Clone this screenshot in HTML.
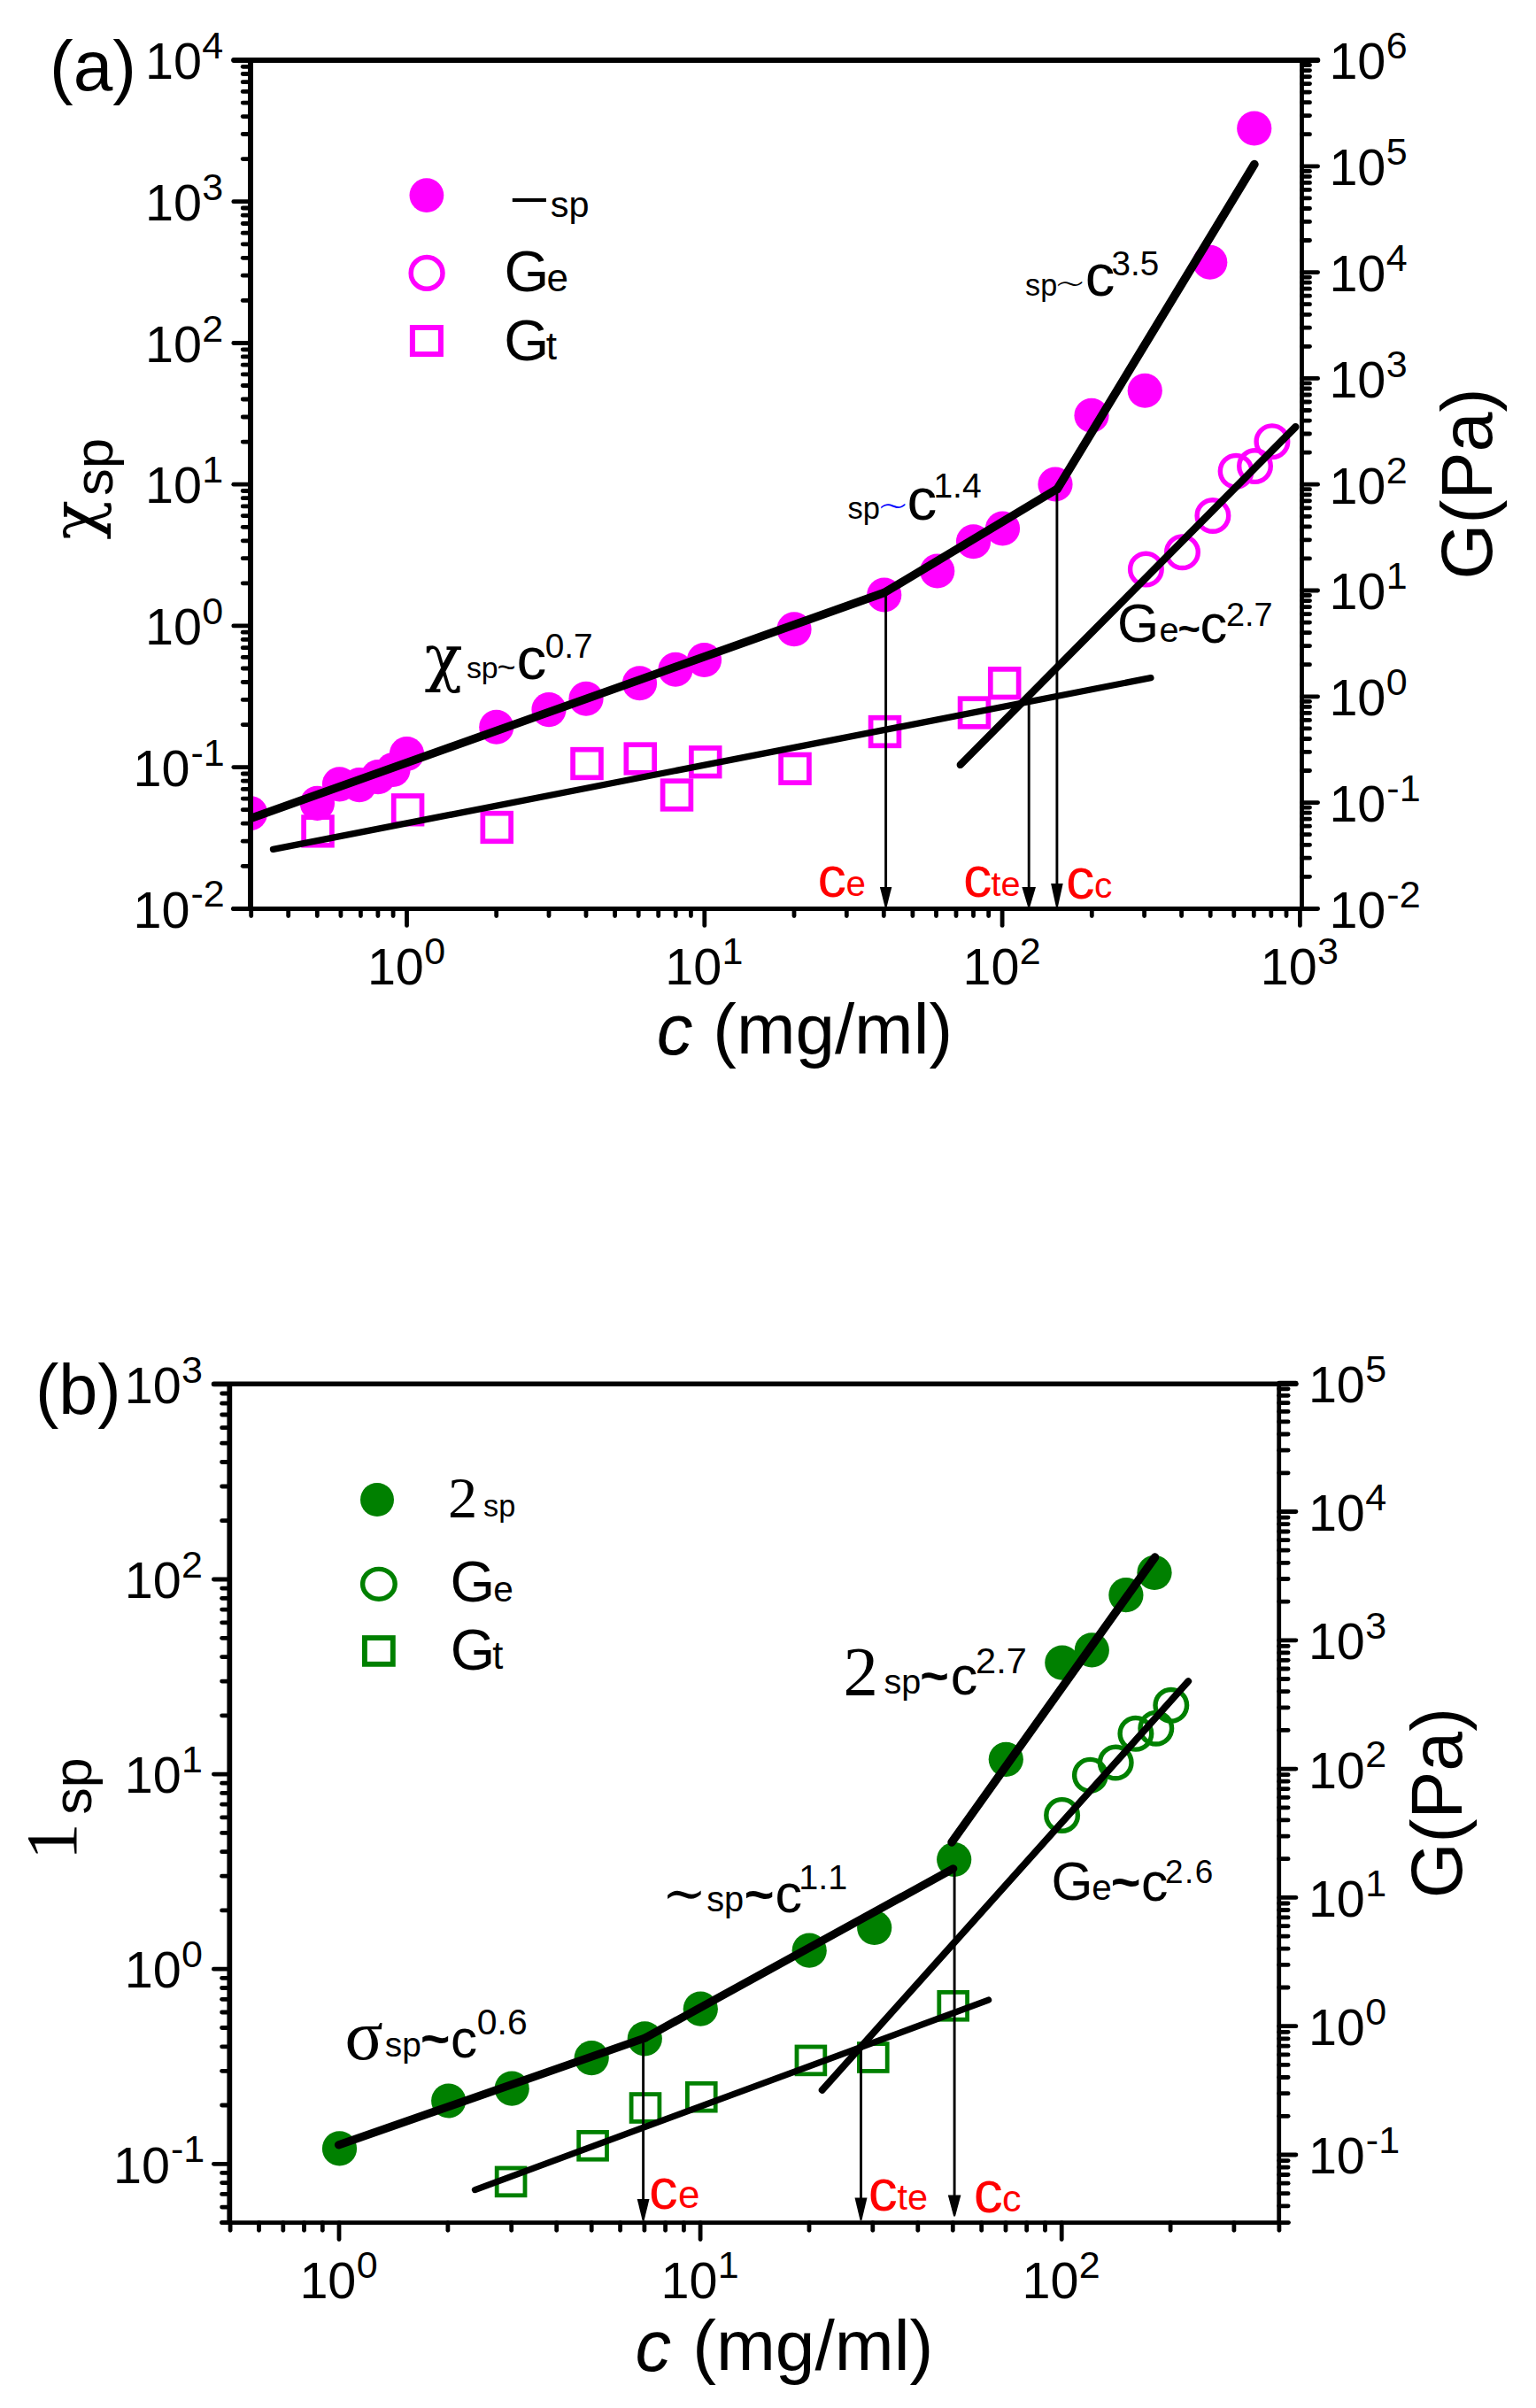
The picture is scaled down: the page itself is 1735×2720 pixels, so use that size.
<!DOCTYPE html>
<html><head><meta charset="utf-8"><title>figure</title>
<style>html,body{margin:0;padding:0;background:#fff}svg{display:block}</style></head>
<body>
<svg width="1735" height="2720" viewBox="0 0 1735 2720" font-family="Liberation Sans,sans-serif">
<rect width="1735" height="2720" fill="#fff"/>
<clipPath id="ca"><rect x="283" y="68" width="1187.5" height="958.4000000000001"/></clipPath>
<g clip-path="url(#ca)">
<g fill="#f0f">
<circle cx="282.6" cy="918.6" r="19.6"/>
<circle cx="358.4" cy="907.4" r="19.6"/>
<circle cx="383.5" cy="885.8" r="19.6"/>
<circle cx="405.9" cy="886.6" r="19.6"/>
<circle cx="427" cy="877.7" r="19.6"/>
<circle cx="444" cy="869.5" r="19.6"/>
<circle cx="459.5" cy="851.5" r="19.6"/>
<circle cx="560.75" cy="821.25" r="19.6"/>
<circle cx="620" cy="801.6" r="19.6"/>
<circle cx="662" cy="789.25" r="19.6"/>
<circle cx="722.5" cy="771.75" r="19.6"/>
<circle cx="763" cy="756.25" r="19.6"/>
<circle cx="795.5" cy="745.5" r="19.6"/>
<circle cx="897" cy="710.75" r="19.6"/>
<circle cx="998.75" cy="672" r="19.6"/>
<circle cx="1058.75" cy="645" r="19.6"/>
<circle cx="1099.5" cy="611.75" r="19.6"/>
<circle cx="1132.5" cy="597" r="19.6"/>
<circle cx="1192" cy="547" r="19.6"/>
<circle cx="1233" cy="469.25" r="19.6"/>
<circle cx="1293.25" cy="441.25" r="19.6"/>
<circle cx="1366.75" cy="296.25" r="19.6"/>
<circle cx="1416.75" cy="145" r="19.6"/>
</g>
<g fill="none" stroke="#f0f" stroke-width="5.4">
<circle cx="1294.4" cy="643" r="17.8"/>
<circle cx="1335.5" cy="623.7" r="17.8"/>
<circle cx="1369.9" cy="582.5" r="17.8"/>
<circle cx="1396.1" cy="532.3" r="17.8"/>
<circle cx="1417.5" cy="526.6" r="17.8"/>
<circle cx="1436.9" cy="498.7" r="17.8"/>
</g>
<g fill="none" stroke="#f0f" stroke-width="5.7">
<rect x="343.10" y="923.10" width="31.8" height="31.6"/>
<rect x="444.70" y="899.00" width="31.8" height="31.6"/>
<rect x="545.35" y="918.70" width="31.8" height="31.6"/>
<rect x="647.10" y="846.70" width="31.8" height="31.6"/>
<rect x="707.35" y="841.20" width="31.8" height="31.6"/>
<rect x="748.60" y="882.20" width="31.8" height="31.6"/>
<rect x="780.85" y="844.95" width="31.8" height="31.6"/>
<rect x="882.10" y="852.50" width="31.8" height="31.6"/>
<rect x="983.60" y="810.70" width="31.8" height="31.6"/>
<rect x="1084.60" y="789.20" width="31.8" height="31.6"/>
<rect x="1118.80" y="755.90" width="31.8" height="31.6"/>
</g>
<line x1="282.75" y1="924.50" x2="998.75" y2="669.50" stroke="#000" stroke-width="9.4" stroke-linecap="round"/>
<line x1="998.75" y1="669.50" x2="1193.75" y2="552.50" stroke="#000" stroke-width="9.4" stroke-linecap="round"/>
<line x1="1194.20" y1="552.50" x2="1416.90" y2="185.60" stroke="#000" stroke-width="9.6" stroke-linecap="round"/>
<line x1="308.50" y1="959.40" x2="1299.90" y2="765.70" stroke="#000" stroke-width="7.3" stroke-linecap="round"/>
<line x1="1084.80" y1="863.90" x2="1463.40" y2="482.20" stroke="#000" stroke-width="8.4" stroke-linecap="round"/>
<line x1="1000.60" y1="669.50" x2="1000.60" y2="1004.00" stroke="#000" stroke-width="2.9"/>
<polygon points="993.9,1002.0 1007.3,1002.0 1001.5,1025.0 999.7,1025.0"/>
<line x1="1162.20" y1="792.90" x2="1162.20" y2="1004.00" stroke="#000" stroke-width="2.9"/>
<polygon points="1154.4,1002.0 1170.0,1002.0 1163.1,1025.0 1161.3,1025.0"/>
<line x1="1193.90" y1="552.50" x2="1193.90" y2="1000.00" stroke="#000" stroke-width="2.9"/>
<polygon points="1187.1,998.0 1200.7,998.0 1194.8,1025.0 1193.0,1025.0"/>
</g>
<line x1="264.20" y1="68.00" x2="1488.30" y2="68.00" stroke="#000" stroke-width="6" stroke-linecap="round"/>
<line x1="263.50" y1="1026.40" x2="1487.50" y2="1026.40" stroke="#000" stroke-width="5" stroke-linecap="round"/>
<line x1="283.00" y1="68.00" x2="283.00" y2="1026.40" stroke="#000" stroke-width="6"/>
<line x1="1470.50" y1="68.00" x2="1470.50" y2="1026.40" stroke="#000" stroke-width="4.8"/>
<g stroke="#000" stroke-width="4.8" stroke-linecap="round">
<path d="M283.7 1026.4L283.7 1034.6"/>
<path d="M325.7 1026.4L325.7 1034.6"/>
<path d="M358.3 1026.4L358.3 1034.6"/>
<path d="M384.9 1026.4L384.9 1034.6"/>
<path d="M407.4 1026.4L407.4 1034.6"/>
<path d="M426.9 1026.4L426.9 1034.6"/>
<path d="M444.1 1026.4L444.1 1034.6"/>
<path d="M459.5 1026.4L459.5 1045.4"/>
<path d="M560.7 1026.4L560.7 1034.6"/>
<path d="M620.0 1026.4L620.0 1034.6"/>
<path d="M662.0 1026.4L662.0 1034.6"/>
<path d="M694.6 1026.4L694.6 1034.6"/>
<path d="M721.2 1026.4L721.2 1034.6"/>
<path d="M743.7 1026.4L743.7 1034.6"/>
<path d="M763.2 1026.4L763.2 1034.6"/>
<path d="M780.4 1026.4L780.4 1034.6"/>
<path d="M795.8 1026.4L795.8 1045.4"/>
<path d="M897.0 1026.4L897.0 1034.6"/>
<path d="M956.3 1026.4L956.3 1034.6"/>
<path d="M998.3 1026.4L998.3 1034.6"/>
<path d="M1030.9 1026.4L1030.9 1034.6"/>
<path d="M1057.5 1026.4L1057.5 1034.6"/>
<path d="M1080.0 1026.4L1080.0 1034.6"/>
<path d="M1099.5 1026.4L1099.5 1034.6"/>
<path d="M1116.7 1026.4L1116.7 1034.6"/>
<path d="M1132.1 1026.4L1132.1 1045.4"/>
<path d="M1233.3 1026.4L1233.3 1034.6"/>
<path d="M1292.6 1026.4L1292.6 1034.6"/>
<path d="M1334.6 1026.4L1334.6 1034.6"/>
<path d="M1367.2 1026.4L1367.2 1034.6"/>
<path d="M1393.8 1026.4L1393.8 1034.6"/>
<path d="M1416.3 1026.4L1416.3 1034.6"/>
<path d="M1435.8 1026.4L1435.8 1034.6"/>
<path d="M1453.0 1026.4L1453.0 1034.6"/>
<path d="M1468.4 1026.4L1468.4 1045.4"/>
<path d="M283.0 1026.4L263.8 1026.4"/>
<path d="M283.0 978.3L274.2 978.3"/>
<path d="M283.0 950.2L274.2 950.2"/>
<path d="M283.0 930.2L274.2 930.2"/>
<path d="M283.0 914.7L274.2 914.7"/>
<path d="M283.0 902.1L274.2 902.1"/>
<path d="M283.0 891.4L274.2 891.4"/>
<path d="M283.0 882.1L274.2 882.1"/>
<path d="M283.0 874.0L274.2 874.0"/>
<path d="M283.0 866.6L263.8 866.6"/>
<path d="M283.0 818.6L274.2 818.6"/>
<path d="M283.0 790.4L274.2 790.4"/>
<path d="M283.0 770.5L274.2 770.5"/>
<path d="M283.0 755.0L274.2 755.0"/>
<path d="M283.0 742.4L274.2 742.4"/>
<path d="M283.0 731.7L274.2 731.7"/>
<path d="M283.0 722.4L274.2 722.4"/>
<path d="M283.0 714.2L274.2 714.2"/>
<path d="M283.0 706.9L263.8 706.9"/>
<path d="M283.0 658.8L274.2 658.8"/>
<path d="M283.0 630.7L274.2 630.7"/>
<path d="M283.0 610.8L274.2 610.8"/>
<path d="M283.0 595.3L274.2 595.3"/>
<path d="M283.0 582.6L274.2 582.6"/>
<path d="M283.0 571.9L274.2 571.9"/>
<path d="M283.0 562.7L274.2 562.7"/>
<path d="M283.0 554.5L274.2 554.5"/>
<path d="M283.0 547.2L263.8 547.2"/>
<path d="M283.0 499.1L274.2 499.1"/>
<path d="M283.0 471.0L274.2 471.0"/>
<path d="M283.0 451.0L274.2 451.0"/>
<path d="M283.0 435.5L274.2 435.5"/>
<path d="M283.0 422.9L274.2 422.9"/>
<path d="M283.0 412.2L274.2 412.2"/>
<path d="M283.0 402.9L274.2 402.9"/>
<path d="M283.0 394.8L274.2 394.8"/>
<path d="M283.0 387.5L263.8 387.5"/>
<path d="M283.0 339.4L274.2 339.4"/>
<path d="M283.0 311.2L274.2 311.2"/>
<path d="M283.0 291.3L274.2 291.3"/>
<path d="M283.0 275.8L274.2 275.8"/>
<path d="M283.0 263.2L274.2 263.2"/>
<path d="M283.0 252.5L274.2 252.5"/>
<path d="M283.0 243.2L274.2 243.2"/>
<path d="M283.0 235.0L274.2 235.0"/>
<path d="M283.0 227.7L263.8 227.7"/>
<path d="M283.0 179.6L274.2 179.6"/>
<path d="M283.0 151.5L274.2 151.5"/>
<path d="M283.0 131.6L274.2 131.6"/>
<path d="M283.0 116.1L274.2 116.1"/>
<path d="M283.0 103.4L274.2 103.4"/>
<path d="M283.0 92.7L274.2 92.7"/>
<path d="M283.0 83.5L274.2 83.5"/>
<path d="M283.0 75.3L274.2 75.3"/>
<path d="M283.0 68.0L263.8 68.0"/>
<path d="M1470.5 1026.4L1488.6 1026.4"/>
<path d="M1470.5 990.3L1479.5 990.3"/>
<path d="M1470.5 969.2L1479.5 969.2"/>
<path d="M1470.5 954.3L1479.5 954.3"/>
<path d="M1470.5 942.7L1479.5 942.7"/>
<path d="M1470.5 933.2L1479.5 933.2"/>
<path d="M1470.5 925.2L1479.5 925.2"/>
<path d="M1470.5 918.2L1479.5 918.2"/>
<path d="M1470.5 912.1L1479.5 912.1"/>
<path d="M1470.5 906.6L1488.6 906.6"/>
<path d="M1470.5 870.5L1479.5 870.5"/>
<path d="M1470.5 849.4L1479.5 849.4"/>
<path d="M1470.5 834.5L1479.5 834.5"/>
<path d="M1470.5 822.9L1479.5 822.9"/>
<path d="M1470.5 813.4L1479.5 813.4"/>
<path d="M1470.5 805.4L1479.5 805.4"/>
<path d="M1470.5 798.4L1479.5 798.4"/>
<path d="M1470.5 792.3L1479.5 792.3"/>
<path d="M1470.5 786.8L1488.6 786.8"/>
<path d="M1470.5 750.7L1479.5 750.7"/>
<path d="M1470.5 729.6L1479.5 729.6"/>
<path d="M1470.5 714.7L1479.5 714.7"/>
<path d="M1470.5 703.1L1479.5 703.1"/>
<path d="M1470.5 693.6L1479.5 693.6"/>
<path d="M1470.5 685.6L1479.5 685.6"/>
<path d="M1470.5 678.6L1479.5 678.6"/>
<path d="M1470.5 672.5L1479.5 672.5"/>
<path d="M1470.5 667.0L1488.6 667.0"/>
<path d="M1470.5 630.9L1479.5 630.9"/>
<path d="M1470.5 609.8L1479.5 609.8"/>
<path d="M1470.5 594.9L1479.5 594.9"/>
<path d="M1470.5 583.3L1479.5 583.3"/>
<path d="M1470.5 573.8L1479.5 573.8"/>
<path d="M1470.5 565.8L1479.5 565.8"/>
<path d="M1470.5 558.8L1479.5 558.8"/>
<path d="M1470.5 552.7L1479.5 552.7"/>
<path d="M1470.5 547.2L1488.6 547.2"/>
<path d="M1470.5 511.1L1479.5 511.1"/>
<path d="M1470.5 490.0L1479.5 490.0"/>
<path d="M1470.5 475.1L1479.5 475.1"/>
<path d="M1470.5 463.5L1479.5 463.5"/>
<path d="M1470.5 454.0L1479.5 454.0"/>
<path d="M1470.5 446.0L1479.5 446.0"/>
<path d="M1470.5 439.0L1479.5 439.0"/>
<path d="M1470.5 432.9L1479.5 432.9"/>
<path d="M1470.5 427.4L1488.6 427.4"/>
<path d="M1470.5 391.3L1479.5 391.3"/>
<path d="M1470.5 370.2L1479.5 370.2"/>
<path d="M1470.5 355.3L1479.5 355.3"/>
<path d="M1470.5 343.7L1479.5 343.7"/>
<path d="M1470.5 334.2L1479.5 334.2"/>
<path d="M1470.5 326.2L1479.5 326.2"/>
<path d="M1470.5 319.2L1479.5 319.2"/>
<path d="M1470.5 313.1L1479.5 313.1"/>
<path d="M1470.5 307.6L1488.6 307.6"/>
<path d="M1470.5 271.5L1479.5 271.5"/>
<path d="M1470.5 250.4L1479.5 250.4"/>
<path d="M1470.5 235.5L1479.5 235.5"/>
<path d="M1470.5 223.9L1479.5 223.9"/>
<path d="M1470.5 214.4L1479.5 214.4"/>
<path d="M1470.5 206.4L1479.5 206.4"/>
<path d="M1470.5 199.4L1479.5 199.4"/>
<path d="M1470.5 193.3L1479.5 193.3"/>
<path d="M1470.5 187.8L1488.6 187.8"/>
<path d="M1470.5 151.7L1479.5 151.7"/>
<path d="M1470.5 130.6L1479.5 130.6"/>
<path d="M1470.5 115.7L1479.5 115.7"/>
<path d="M1470.5 104.1L1479.5 104.1"/>
<path d="M1470.5 94.6L1479.5 94.6"/>
<path d="M1470.5 86.6L1479.5 86.6"/>
<path d="M1470.5 79.6L1479.5 79.6"/>
<path d="M1470.5 73.5L1479.5 73.5"/>
<path d="M1470.5 68.0L1488.6 68.0"/>
</g>
<g font-family="Liberation Sans,sans-serif">
<text x="459.00" y="1112.20" text-anchor="middle"><tspan font-size="57.5">10</tspan><tspan font-size="43" dy="-23.10" dx="0.30">0</tspan></text>
<text x="795.30" y="1112.20" text-anchor="middle"><tspan font-size="57.5">10</tspan><tspan font-size="43" dy="-23.10" dx="0.30">1</tspan></text>
<text x="1131.60" y="1112.20" text-anchor="middle"><tspan font-size="57.5">10</tspan><tspan font-size="43" dy="-23.10" dx="0.30">2</tspan></text>
<text x="1467.90" y="1112.20" text-anchor="middle"><tspan font-size="57.5">10</tspan><tspan font-size="43" dy="-23.10" dx="0.30">3</tspan></text>
<text x="150.50" y="1047.58"><tspan font-size="57.5">10</tspan><tspan font-size="43" dy="-23.10" dx="1.00">-2</tspan></text>
<text x="150.50" y="887.85"><tspan font-size="57.5">10</tspan><tspan font-size="43" dy="-23.10" dx="1.00">-1</tspan></text>
<text x="164.10" y="728.12"><tspan font-size="57.5">10</tspan><tspan font-size="43" dy="-23.10" dx="0.30">0</tspan></text>
<text x="164.10" y="568.39"><tspan font-size="57.5">10</tspan><tspan font-size="43" dy="-23.10" dx="0.30">1</tspan></text>
<text x="164.10" y="408.66"><tspan font-size="57.5">10</tspan><tspan font-size="43" dy="-23.10" dx="0.30">2</tspan></text>
<text x="164.10" y="248.93"><tspan font-size="57.5">10</tspan><tspan font-size="43" dy="-23.10" dx="0.30">3</tspan></text>
<text x="164.10" y="89.20"><tspan font-size="57.5">10</tspan><tspan font-size="43" dy="-23.10" dx="0.30">4</tspan></text>
<text x="1501.40" y="1047.80"><tspan font-size="57.5">10</tspan><tspan font-size="43" dy="-23.10" dx="1.00">-2</tspan></text>
<text x="1501.40" y="928.00"><tspan font-size="57.5">10</tspan><tspan font-size="43" dy="-23.10" dx="1.00">-1</tspan></text>
<text x="1501.40" y="808.20"><tspan font-size="57.5">10</tspan><tspan font-size="43" dy="-23.10" dx="0.30">0</tspan></text>
<text x="1501.40" y="688.40"><tspan font-size="57.5">10</tspan><tspan font-size="43" dy="-23.10" dx="0.30">1</tspan></text>
<text x="1501.40" y="568.60"><tspan font-size="57.5">10</tspan><tspan font-size="43" dy="-23.10" dx="0.30">2</tspan></text>
<text x="1501.40" y="448.80"><tspan font-size="57.5">10</tspan><tspan font-size="43" dy="-23.10" dx="0.30">3</tspan></text>
<text x="1501.40" y="329.00"><tspan font-size="57.5">10</tspan><tspan font-size="43" dy="-23.10" dx="0.30">4</tspan></text>
<text x="1501.40" y="209.20"><tspan font-size="57.5">10</tspan><tspan font-size="43" dy="-23.10" dx="0.30">5</tspan></text>
<text x="1501.40" y="89.40"><tspan font-size="57.5">10</tspan><tspan font-size="43" dy="-23.10" dx="0.30">6</tspan></text>
</g>
<circle cx="481.9" cy="220.6" r="19.4" fill="#f0f"/>
<circle cx="482.1" cy="308.4" r="17.9" fill="none" stroke="#f0f" stroke-width="5.5"/>
<rect x="465.9" y="370" width="32" height="30.1" fill="none" stroke="#f0f" stroke-width="6"/>
<line x1="578.80" y1="226.00" x2="616.90" y2="226.00" stroke="#000" stroke-width="4"/>
<clipPath id="cb"><rect x="259.3" y="1563.3" width="1185.4" height="947.3"/></clipPath>
<g clip-path="url(#cb)">
<g fill="#008000">
<circle cx="383.5" cy="2426.9" r="19.6"/>
<circle cx="506.7" cy="2373" r="19.6"/>
<circle cx="578.2" cy="2359.2" r="19.6"/>
<circle cx="668.2" cy="2324.6" r="19.6"/>
<circle cx="728.3" cy="2302.8" r="19.6"/>
<circle cx="791.3" cy="2269.2" r="19.6"/>
<circle cx="914.2" cy="2203.2" r="19.6"/>
<circle cx="987.7" cy="2177.5" r="19.6"/>
<circle cx="1077.7" cy="2100.5" r="19.6"/>
<circle cx="1136.3" cy="1987.3" r="19.6"/>
<circle cx="1199.8" cy="1878.1" r="19.6"/>
<circle cx="1233.3" cy="1863.9" r="19.6"/>
<circle cx="1271.9" cy="1801.7" r="19.6"/>
<circle cx="1304" cy="1776.3" r="19.6"/>
</g>
<g fill="none" stroke="#008000" stroke-width="5.4">
<circle cx="1199.6" cy="2050.4" r="17.8"/>
<circle cx="1231.4" cy="2005.2" r="17.8"/>
<circle cx="1260.2" cy="1991" r="17.8"/>
<circle cx="1282.9" cy="1958.3" r="17.8"/>
<circle cx="1305.8" cy="1952.2" r="17.8"/>
<circle cx="1322.8" cy="1926.3" r="17.8"/>
</g>
<g fill="none" stroke="#008000" stroke-width="4.8">
<rect x="561.20" y="2449.00" width="31.8" height="30.8"/>
<rect x="653.70" y="2408.40" width="31.8" height="30.8"/>
<rect x="713.10" y="2365.60" width="31.8" height="30.8"/>
<rect x="776.40" y="2353.30" width="31.8" height="30.8"/>
<rect x="900.00" y="2312.00" width="31.8" height="30.8"/>
<rect x="970.40" y="2308.60" width="31.8" height="30.8"/>
<rect x="1060.80" y="2250.40" width="31.8" height="30.8"/>
</g>
<line x1="382.50" y1="2422.80" x2="728.70" y2="2302.00" stroke="#000" stroke-width="9.2" stroke-linecap="round"/>
<line x1="728.70" y1="2302.00" x2="1076.70" y2="2110.80" stroke="#000" stroke-width="9.2" stroke-linecap="round"/>
<line x1="1075.00" y1="2081.00" x2="1304.60" y2="1759.00" stroke="#000" stroke-width="9.4" stroke-linecap="round"/>
<line x1="536.50" y1="2473.60" x2="1116.60" y2="2259.10" stroke="#000" stroke-width="7.3" stroke-linecap="round"/>
<line x1="928.70" y1="2360.80" x2="1342.20" y2="1899.20" stroke="#000" stroke-width="7.9" stroke-linecap="round"/>
<line x1="726.60" y1="2302.00" x2="726.60" y2="2486.00" stroke="#000" stroke-width="2.9"/>
<polygon points="719.7,2484.0 733.5,2484.0 727.5,2508.5 725.7,2508.5"/>
<line x1="972.50" y1="2312.00" x2="972.50" y2="2484.50" stroke="#000" stroke-width="2.9"/>
<polygon points="965.5,2482.5 979.5,2482.5 973.4,2508.0 971.6,2508.0"/>
<line x1="1078.10" y1="2110.80" x2="1078.10" y2="2481.40" stroke="#000" stroke-width="2.9"/>
<polygon points="1070.8,2479.4 1085.4,2479.4 1079.0,2503.4 1077.2,2503.4"/>
</g>
<line x1="241.50" y1="1563.30" x2="1464.00" y2="1563.30" stroke="#000" stroke-width="5.4" stroke-linecap="round"/>
<line x1="250.50" y1="2510.60" x2="1455.50" y2="2510.60" stroke="#000" stroke-width="4.8" stroke-linecap="round"/>
<line x1="259.30" y1="1563.30" x2="259.30" y2="2510.60" stroke="#000" stroke-width="5.8"/>
<line x1="1444.70" y1="1563.30" x2="1444.70" y2="2510.60" stroke="#000" stroke-width="4.8"/>
<g stroke="#000" stroke-width="4.8" stroke-linecap="round">
<path d="M260.1 2510.6L260.1 2519.3"/>
<path d="M292.5 2510.6L292.5 2519.3"/>
<path d="M319.8 2510.6L319.8 2519.3"/>
<path d="M343.5 2510.6L343.5 2519.3"/>
<path d="M364.3 2510.6L364.3 2519.3"/>
<path d="M383.0 2510.6L383.0 2529.6"/>
<path d="M505.9 2510.6L505.9 2519.3"/>
<path d="M577.7 2510.6L577.7 2519.3"/>
<path d="M628.7 2510.6L628.7 2519.3"/>
<path d="M668.2 2510.6L668.2 2519.3"/>
<path d="M700.6 2510.6L700.6 2519.3"/>
<path d="M727.9 2510.6L727.9 2519.3"/>
<path d="M751.6 2510.6L751.6 2519.3"/>
<path d="M772.4 2510.6L772.4 2519.3"/>
<path d="M791.1 2510.6L791.1 2529.6"/>
<path d="M914.0 2510.6L914.0 2519.3"/>
<path d="M985.8 2510.6L985.8 2519.3"/>
<path d="M1036.8 2510.6L1036.8 2519.3"/>
<path d="M1076.3 2510.6L1076.3 2519.3"/>
<path d="M1108.7 2510.6L1108.7 2519.3"/>
<path d="M1136.0 2510.6L1136.0 2519.3"/>
<path d="M1159.7 2510.6L1159.7 2519.3"/>
<path d="M1180.5 2510.6L1180.5 2519.3"/>
<path d="M1199.2 2510.6L1199.2 2529.6"/>
<path d="M1322.1 2510.6L1322.1 2519.3"/>
<path d="M1393.9 2510.6L1393.9 2519.3"/>
<path d="M1444.9 2510.6L1444.9 2519.3"/>
<path d="M259.3 2510.6L250.6 2510.6"/>
<path d="M259.3 2493.1L250.6 2493.1"/>
<path d="M259.3 2478.4L250.6 2478.4"/>
<path d="M259.3 2465.6L250.6 2465.6"/>
<path d="M259.3 2454.4L250.6 2454.4"/>
<path d="M259.3 2444.3L241.4 2444.3"/>
<path d="M259.3 2378.0L250.6 2378.0"/>
<path d="M259.3 2339.3L250.6 2339.3"/>
<path d="M259.3 2311.8L250.6 2311.8"/>
<path d="M259.3 2290.5L250.6 2290.5"/>
<path d="M259.3 2273.0L250.6 2273.0"/>
<path d="M259.3 2258.3L250.6 2258.3"/>
<path d="M259.3 2245.5L250.6 2245.5"/>
<path d="M259.3 2234.3L250.6 2234.3"/>
<path d="M259.3 2224.2L241.4 2224.2"/>
<path d="M259.3 2157.9L250.6 2157.9"/>
<path d="M259.3 2119.2L250.6 2119.2"/>
<path d="M259.3 2091.7L250.6 2091.7"/>
<path d="M259.3 2070.4L250.6 2070.4"/>
<path d="M259.3 2052.9L250.6 2052.9"/>
<path d="M259.3 2038.2L250.6 2038.2"/>
<path d="M259.3 2025.4L250.6 2025.4"/>
<path d="M259.3 2014.2L250.6 2014.2"/>
<path d="M259.3 2004.1L241.4 2004.1"/>
<path d="M259.3 1937.8L250.6 1937.8"/>
<path d="M259.3 1899.1L250.6 1899.1"/>
<path d="M259.3 1871.6L250.6 1871.6"/>
<path d="M259.3 1850.3L250.6 1850.3"/>
<path d="M259.3 1832.8L250.6 1832.8"/>
<path d="M259.3 1818.1L250.6 1818.1"/>
<path d="M259.3 1805.3L250.6 1805.3"/>
<path d="M259.3 1794.1L250.6 1794.1"/>
<path d="M259.3 1784.0L241.4 1784.0"/>
<path d="M259.3 1717.7L250.6 1717.7"/>
<path d="M259.3 1679.0L250.6 1679.0"/>
<path d="M259.3 1651.5L250.6 1651.5"/>
<path d="M259.3 1630.2L250.6 1630.2"/>
<path d="M259.3 1612.7L250.6 1612.7"/>
<path d="M259.3 1598.0L250.6 1598.0"/>
<path d="M259.3 1585.2L250.6 1585.2"/>
<path d="M259.3 1574.0L250.6 1574.0"/>
<path d="M259.3 1563.9L241.4 1563.9"/>
<path d="M1444.7 2491.8L1455.1 2491.8"/>
<path d="M1444.7 2477.7L1455.1 2477.7"/>
<path d="M1444.7 2466.2L1455.1 2466.2"/>
<path d="M1444.7 2456.5L1455.1 2456.5"/>
<path d="M1444.7 2448.1L1455.1 2448.1"/>
<path d="M1444.7 2440.6L1455.1 2440.6"/>
<path d="M1444.7 2434.0L1463.9 2434.0"/>
<path d="M1444.7 2390.3L1455.1 2390.3"/>
<path d="M1444.7 2364.7L1455.1 2364.7"/>
<path d="M1444.7 2346.5L1455.1 2346.5"/>
<path d="M1444.7 2332.4L1455.1 2332.4"/>
<path d="M1444.7 2320.9L1455.1 2320.9"/>
<path d="M1444.7 2311.2L1455.1 2311.2"/>
<path d="M1444.7 2302.8L1455.1 2302.8"/>
<path d="M1444.7 2295.3L1455.1 2295.3"/>
<path d="M1444.7 2288.7L1463.9 2288.7"/>
<path d="M1444.7 2245.0L1455.1 2245.0"/>
<path d="M1444.7 2219.4L1455.1 2219.4"/>
<path d="M1444.7 2201.2L1455.1 2201.2"/>
<path d="M1444.7 2187.1L1455.1 2187.1"/>
<path d="M1444.7 2175.6L1455.1 2175.6"/>
<path d="M1444.7 2165.9L1455.1 2165.9"/>
<path d="M1444.7 2157.5L1455.1 2157.5"/>
<path d="M1444.7 2150.0L1455.1 2150.0"/>
<path d="M1444.7 2143.4L1463.9 2143.4"/>
<path d="M1444.7 2099.7L1455.1 2099.7"/>
<path d="M1444.7 2074.1L1455.1 2074.1"/>
<path d="M1444.7 2055.9L1455.1 2055.9"/>
<path d="M1444.7 2041.8L1455.1 2041.8"/>
<path d="M1444.7 2030.3L1455.1 2030.3"/>
<path d="M1444.7 2020.6L1455.1 2020.6"/>
<path d="M1444.7 2012.2L1455.1 2012.2"/>
<path d="M1444.7 2004.7L1455.1 2004.7"/>
<path d="M1444.7 1998.1L1463.9 1998.1"/>
<path d="M1444.7 1954.4L1455.1 1954.4"/>
<path d="M1444.7 1928.8L1455.1 1928.8"/>
<path d="M1444.7 1910.6L1455.1 1910.6"/>
<path d="M1444.7 1896.5L1455.1 1896.5"/>
<path d="M1444.7 1885.0L1455.1 1885.0"/>
<path d="M1444.7 1875.3L1455.1 1875.3"/>
<path d="M1444.7 1866.9L1455.1 1866.9"/>
<path d="M1444.7 1859.4L1455.1 1859.4"/>
<path d="M1444.7 1852.8L1463.9 1852.8"/>
<path d="M1444.7 1809.1L1455.1 1809.1"/>
<path d="M1444.7 1783.5L1455.1 1783.5"/>
<path d="M1444.7 1765.3L1455.1 1765.3"/>
<path d="M1444.7 1751.2L1455.1 1751.2"/>
<path d="M1444.7 1739.7L1455.1 1739.7"/>
<path d="M1444.7 1730.0L1455.1 1730.0"/>
<path d="M1444.7 1721.6L1455.1 1721.6"/>
<path d="M1444.7 1714.1L1455.1 1714.1"/>
<path d="M1444.7 1707.5L1463.9 1707.5"/>
<path d="M1444.7 1663.8L1455.1 1663.8"/>
<path d="M1444.7 1638.2L1455.1 1638.2"/>
<path d="M1444.7 1620.0L1455.1 1620.0"/>
<path d="M1444.7 1605.9L1455.1 1605.9"/>
<path d="M1444.7 1594.4L1455.1 1594.4"/>
<path d="M1444.7 1584.7L1455.1 1584.7"/>
<path d="M1444.7 1576.3L1455.1 1576.3"/>
<path d="M1444.7 1568.8L1455.1 1568.8"/>
<path d="M1444.7 1562.2L1463.9 1562.2"/>
</g>
<g font-family="Liberation Sans,sans-serif">
<text x="382.50" y="2595.70" text-anchor="middle"><tspan font-size="57.5">10</tspan><tspan font-size="43" dy="-23.10" dx="0.30">0</tspan></text>
<text x="790.60" y="2595.70" text-anchor="middle"><tspan font-size="57.5">10</tspan><tspan font-size="43" dy="-23.10" dx="0.30">1</tspan></text>
<text x="1198.70" y="2595.70" text-anchor="middle"><tspan font-size="57.5">10</tspan><tspan font-size="43" dy="-23.10" dx="0.30">2</tspan></text>
<text x="128.00" y="2465.50"><tspan font-size="57.5">10</tspan><tspan font-size="43" dy="-23.10" dx="1.00">-1</tspan></text>
<text x="140.70" y="2245.40"><tspan font-size="57.5">10</tspan><tspan font-size="43" dy="-23.10" dx="0.30">0</tspan></text>
<text x="140.70" y="2025.30"><tspan font-size="57.5">10</tspan><tspan font-size="43" dy="-23.10" dx="0.30">1</tspan></text>
<text x="140.70" y="1805.20"><tspan font-size="57.5">10</tspan><tspan font-size="43" dy="-23.10" dx="0.30">2</tspan></text>
<text x="140.70" y="1585.10"><tspan font-size="57.5">10</tspan><tspan font-size="43" dy="-23.10" dx="0.30">3</tspan></text>
<text x="1477.90" y="2455.40"><tspan font-size="57.5">10</tspan><tspan font-size="43" dy="-23.10" dx="1.00">-1</tspan></text>
<text x="1477.90" y="2310.10"><tspan font-size="57.5">10</tspan><tspan font-size="43" dy="-23.10" dx="0.30">0</tspan></text>
<text x="1477.90" y="2164.80"><tspan font-size="57.5">10</tspan><tspan font-size="43" dy="-23.10" dx="0.30">1</tspan></text>
<text x="1477.90" y="2019.50"><tspan font-size="57.5">10</tspan><tspan font-size="43" dy="-23.10" dx="0.30">2</tspan></text>
<text x="1477.90" y="1874.20"><tspan font-size="57.5">10</tspan><tspan font-size="43" dy="-23.10" dx="0.30">3</tspan></text>
<text x="1477.90" y="1728.90"><tspan font-size="57.5">10</tspan><tspan font-size="43" dy="-23.10" dx="0.30">4</tspan></text>
<text x="1477.90" y="1583.60"><tspan font-size="57.5">10</tspan><tspan font-size="43" dy="-23.10" dx="0.30">5</tspan></text>
</g>
<circle cx="426" cy="1694" r="19" fill="#008000"/>
<ellipse cx="427.9" cy="1789.3" rx="18.3" ry="16.9" fill="none" stroke="#008000" stroke-width="5.4"/>
<rect x="411.9" y="1850.1" width="31.9" height="29.7" fill="none" stroke="#008000" stroke-width="5.9"/>
<text><tspan x="56.0" y="102.2" font-size="80.2">(a)</tspan></text>
<text><tspan x="741.7" y="1190.6" font-size="81.6" font-style="italic">c</tspan><tspan x="805.3" y="1190.0" font-size="79.9">(mg/ml)</tspan></text>
<text transform="rotate(-90)"><tspan x="-609.7" y="110.3" font-size="73.6" font-family="DejaVu Serif,serif">χ</tspan><tspan x="-560.1" y="126.8" font-size="61.6">sp</tspan></text>
<text transform="rotate(-90)"><tspan x="-654.4" y="1685.1" font-size="80.9">G(Pa)</tspan></text>
<text><tspan x="621.8" y="245.1" font-size="41.4">sp</tspan></text>
<text><tspan x="569.4" y="328.9" font-size="65.3">G</tspan><tspan x="617.4" y="329.2" font-size="44.0">e</tspan></text>
<text><tspan x="569.3" y="407.2" font-size="65.5">G</tspan><tspan x="616.8" y="405.7" font-size="44.2">t</tspan></text>
<text><tspan x="479.6" y="766.8" font-size="70.9" font-family="DejaVu Serif,serif">χ</tspan><tspan x="526.9" y="765.8" font-size="33.9">sp</tspan><tspan x="561.6" y="766.0" font-size="36.0">~</tspan><tspan x="583.6" y="766.9" font-size="67.5">c</tspan><tspan x="615.7" y="743.2" font-size="38.8">0.7</tspan></text>
<text><tspan x="957.4" y="585.9" font-size="34.5">sp</tspan><tspan x="990.5" y="585.4" font-size="43.3" font-family="DejaVu Sans,sans-serif" font-weight="200" fill="#00f">~</tspan><tspan x="1024.6" y="586.9" font-size="67.5">c</tspan><tspan x="1054.4" y="562.4" font-size="39.0">1.4</tspan></text>
<text><tspan x="1158.1" y="333.8" font-size="34.2">sp</tspan><tspan x="1190.5" y="334.0" font-size="43.3" font-family="DejaVu Sans,sans-serif" font-weight="200">~</tspan><tspan x="1225.8" y="334.3" font-size="67.2">c</tspan><tspan x="1255.5" y="311.4" font-size="38.6">3.5</tspan></text>
<text><tspan x="1262.1" y="724.8" font-size="60.6">G</tspan><tspan x="1309.5" y="725.0" font-size="39.7">e</tspan><tspan x="1330.5" y="725.3" font-size="43.5" font-weight="bold">~</tspan><tspan x="1355.6" y="725.7" font-size="61.6">c</tspan><tspan x="1384.9" y="706.7" font-size="37.8">2.7</tspan></text>
<text fill="#f00"><tspan x="923.6" y="1012.7" font-size="65.1">c</tspan><tspan x="955.4" y="1011.6" font-size="40.3">e</tspan></text>
<text fill="#f00"><tspan x="1088.0" y="1012.7" font-size="64.9">c</tspan><tspan x="1119.6" y="1012.2" font-size="39.7">te</tspan></text>
<text fill="#f00"><tspan x="1204.0" y="1014.6" font-size="65.1">c</tspan><tspan x="1235.9" y="1014.2" font-size="40.7">c</tspan></text>
<text><tspan x="39.9" y="1597.4" font-size="79.2">(b)</tspan></text>
<text><tspan x="717.5" y="2677.5" font-size="81.3" font-style="italic">c</tspan><tspan x="782.2" y="2676.8" font-size="80.3">(mg/ml)</tspan></text>
<text transform="rotate(-90)"><tspan x="-2101.1" y="86.0" font-size="83.5" font-family="Liberation Serif,serif">1</tspan><tspan x="-2049.7" y="103.2" font-size="61.0">sp</tspan></text>
<text transform="rotate(-90)"><tspan x="-2144.2" y="1651.2" font-size="80.7">G(Pa)</tspan></text>
<text><tspan x="505.9" y="1713.7" font-size="66.4" font-family="Liberation Serif,serif">2</tspan><tspan x="546.1" y="1712.5" font-size="34.3">sp</tspan></text>
<text><tspan x="508.6" y="1809.0" font-size="65.1">G</tspan><tspan x="557.3" y="1808.7" font-size="40.6">e</tspan></text>
<text><tspan x="508.7" y="1886.1" font-size="64.9">G</tspan><tspan x="556.3" y="1885.1" font-size="43.6">t</tspan></text>
<text><tspan x="389.5" y="2325.7" font-size="80.3" font-family="Liberation Serif,serif">σ</tspan><tspan x="434.8" y="2323.2" font-size="38.8">sp</tspan><tspan x="474.9" y="2322.6" font-size="57.0" font-weight="bold">~</tspan><tspan x="509.0" y="2323.8" font-size="60.3">c</tspan><tspan x="538.8" y="2298.0" font-size="40.9">0.6</tspan></text>
<text><tspan x="747.8" y="2158.8" font-size="60.0" font-family="DejaVu Serif,serif">∼</tspan><tspan x="798.2" y="2158.7" font-size="39.8">sp</tspan><tspan x="840.8" y="2160.2" font-size="57.7" font-weight="bold">~</tspan><tspan x="875.4" y="2159.8" font-size="61.2">c</tspan><tspan x="902.3" y="2133.8" font-size="39.6">1.1</tspan></text>
<text><tspan x="952.6" y="1913.5" font-size="78.7" font-family="Liberation Serif,serif">2</tspan><tspan x="998.5" y="1912.6" font-size="39.6">sp</tspan><tspan x="1039.3" y="1911.7" font-size="55.8" font-weight="bold">~</tspan><tspan x="1073.8" y="1914.0" font-size="61.3">c</tspan><tspan x="1102.1" y="1889.7" font-size="41.5">2.7</tspan></text>
<text><tspan x="1187.5" y="2146.0" font-size="60.3">G</tspan><tspan x="1233.3" y="2146.2" font-size="40.5">e</tspan><tspan x="1254.7" y="2146.2" font-size="57.7" font-weight="bold">~</tspan><tspan x="1288.9" y="2146.6" font-size="60.9">c</tspan><tspan x="1315.9" y="2126.8" font-size="36.9" letter-spacing="1.5">2.6</tspan></text>
<text fill="#f00"><tspan x="733.0" y="2494.8" font-size="65.4">c</tspan><tspan x="766.1" y="2493.6" font-size="44.0">e</tspan></text>
<text fill="#f00"><tspan x="980.7" y="2496.9" font-size="66.0">c</tspan><tspan x="1013.4" y="2496.2" font-size="41.5">te</tspan></text>
<text fill="#f00"><tspan x="1099.7" y="2499.1" font-size="66.1">c</tspan><tspan x="1132.0" y="2498.0" font-size="43.1">c</tspan></text>
</svg>
</body></html>
